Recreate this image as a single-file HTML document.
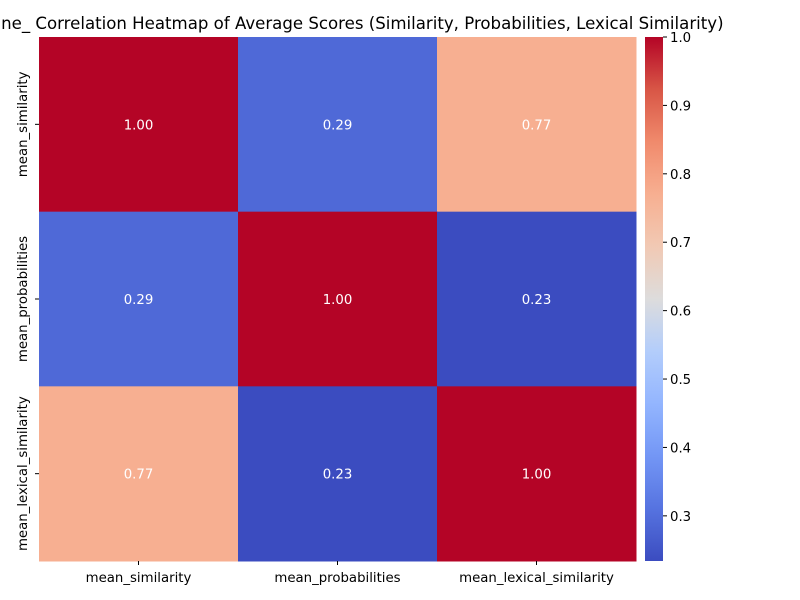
<!DOCTYPE html>
<html><head><meta charset="utf-8"><style>body{margin:0;background:#fff}svg{display:block;font-family:"DejaVu Sans","Liberation Sans",sans-serif}</style></head>
<body>
<svg id="chart" width="800" height="600" viewBox="0 0 800 600">
<defs><linearGradient id="cb" x1="0" y1="1" x2="0" y2="0"></linearGradient></defs>
<text x="337.5" y="29" text-anchor="middle" font-size="16.6" fill="#000">Baseline_ Correlation Heatmap of Average Scores (Similarity, Probabilities, Lexical Similarity)</text>
<g id="cells"></g><g id="xlabels"></g><g id="ylabels"></g><g id="cbar"></g>
</svg>
<script>
const categories = ["mean_similarity","mean_probabilities","mean_lexical_similarity"];
const matrixRow0 = [1.00, 0.29, 0.77];
const matrixRow1 = [0.29, 1.00, 0.23];
const matrixRow2 = [0.77, 0.23, 1.00];
const colorbarTicks = [0.3,0.4,0.5,0.6,0.7,0.8,0.9,1.0];
const vmin = 0.234, vmax = 1.0;
const rows = [matrixRow0, matrixRow1, matrixRow2];
const NS = "http://www.w3.org/2000/svg";
const L=39,R=636,T=37,B=561;
const cw=(R-L)/categories.length, ch=(B-T)/categories.length;
const stops=[[0,[59,76,192]],[0.1,[86,115,224]],[0.2,[115,150,245]],[0.3,[147,181,254]],[0.4,[179,205,251]],[0.5,[221,220,220]],[0.6,[241,201,180]],[0.7,[247,175,145]],[0.8,[240,138,108]],[0.9,[216,86,70]],[1,[180,4,38]]];
function cmap(t){t=Math.max(0,Math.min(1,t));for(let i=1;i<stops.length;i++){if(t<=stops[i][0]){const a=stops[i-1],b=stops[i];const f=(t-a[0])/(b[0]-a[0]);const c=a[1].map((v,k)=>Math.round(v+(b[1][k]-v)*f));return `rgb(${c})`;}}return "rgb(180,4,38)";}
function norm(v){return (v-vmin)/(vmax-vmin);}
function mk(tag,attrs,parent){const e=document.createElementNS(NS,tag);for(const k in attrs)e.setAttribute(k,attrs[k]);parent.appendChild(e);return e;}
const cells=document.getElementById('cells');
rows.forEach((row,i)=>row.forEach((v,j)=>{
 const r=mk('rect',{x:L+j*cw,y:T+i*ch,width:cw+0.5,height:ch+0.5,fill:cmap(norm(v))},cells);
 
 
 const t=mk('text',{x:L+(j+0.5)*cw,y:T+(i+0.5)*ch+5,'text-anchor':'middle','font-size':'13.3',fill:'#fff'},cells);
 t.textContent=v.toFixed(2);
 
 
}));
const xl=document.getElementById('xlabels'),yl=document.getElementById('ylabels');
categories.forEach((c,i)=>{
 const x=L+(i+0.5)*cw;
 mk('line',{x1:x,y1:B,x2:x,y2:B+4,stroke:'#000'},xl);
 const t=mk('text',{x:x,y:B+21,'text-anchor':'middle','font-size':'13.3'},xl);t.textContent=c;
 
 
 const y=T+(i+0.5)*ch;
 mk('line',{x1:L-4,y1:y,x2:L,y2:y,stroke:'#000'},yl);
 const u=mk('text',{x:0,y:0,'text-anchor':'middle','font-size':'13.3',transform:`translate(27,${y}) rotate(-90)`},yl);u.textContent=c;
 
 
});
const g=document.getElementById('cb');
for(let k=0;k<=20;k++){mk('stop',{offset:k/20,'stop-color':cmap(k/20)},g);}
const cb=document.getElementById('cbar');
const CX=645,CW=18;
const bar=mk('rect',{x:CX,y:T,width:CW,height:B-T,fill:'url(#cb)'},cb);


colorbarTicks.forEach(v=>{
 const y=B-norm(v)*(B-T);
 mk('line',{x1:CX+CW,y1:y,x2:CX+CW+4,y2:y,stroke:'#000'},cb);
 const t=mk('text',{x:CX+CW+7,y:y+5,'font-size':'13.3'},cb);t.textContent=v.toFixed(1);
 
 
});
</script>
</body></html>
